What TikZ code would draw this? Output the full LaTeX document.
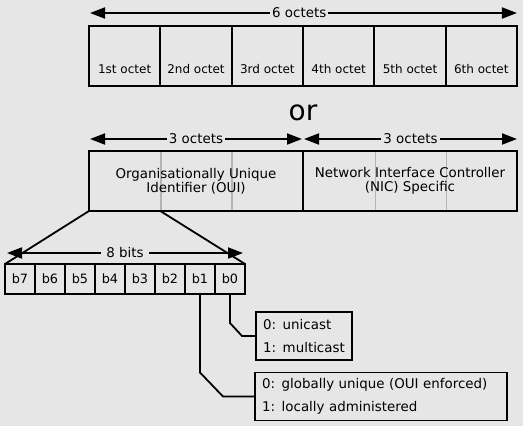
\documentclass[tikz,border=0pt]{standalone}
\usepackage{fontspec}
\setmainfont{DejaVu Sans}
\usetikzlibrary{arrows.meta,calc}
\definecolor{bg}{HTML}{E6E6E6}
\definecolor{divider}{HTML}{B4B4B4}

\begin{document}
\begin{tikzpicture}[x=1pt, y=-1pt, line width=1.8pt,
  font=\fontsize{13.4}{13.8}\selectfont,
  >={Triangle[length=15pt, width=11pt]},
  octet/.style={draw, outer sep=0pt, inner sep=0pt, minimum width=71.33pt, minimum height=60pt},
  half/.style={draw, outer sep=0pt, inner sep=0pt, minimum width=214pt, minimum height=60pt, align=center},
  bit/.style={draw, outer sep=0pt, inner sep=0pt, minimum width=30pt, minimum height=30pt, font=\fontsize{12.8}{13}\selectfont},
  octlabel/.style={anchor=south, yshift=8pt, font=\fontsize{12}{12}\selectfont},
  span/.style={<->},
  gap/.style={fill=bg, inner sep=2pt},
  divline/.style={divider, line width=1.5pt},
  note/.style={draw, outer sep=0pt, anchor=west, align=left, inner xsep=7pt, minimum height=48pt, font=\fontsize{13.4}{23}\selectfont}]

\useasboundingbox (0,0) rectangle (523,426);
\fill[bg] (0,0) rectangle (523,426);

\node[octet, label={[octlabel]south:1st octet}] (o1) at (124.67,56) {};
\node[octet, label={[octlabel]south:2nd octet}] (o2) at (196,56) {};
\node[octet, label={[octlabel]south:3rd octet}] (o3) at (267.33,56) {};
\node[octet, label={[octlabel]south:4th octet}] (o4) at (338.67,56) {};
\node[octet, label={[octlabel]south:5th octet}] (o5) at (410,56) {};
\node[octet, label={[octlabel]south:6th octet}] (o6) at (481.33,56) {};

\draw[span] ([xshift=1pt, yshift=13pt]o1.north west) -- ([yshift=13pt]o6.north east)
  node[gap, pos=0.49] {6 octets};

\node[font=\fontsize{28}{28}\selectfont] (or) at (303,113) {or};

\draw[divline] (161,151) -- (161,211);
\draw[divline] (232,151) -- (232,211);
\draw[divline] (375.5,151) -- (375.5,211);
\draw[divline] (446.5,151) -- (446.5,211);

\node[half] (oui) at (196,181) {Organisationally Unique\\Identifier (OUI)};
\node[half] (nic) at (410,181) {Network Interface Controller\\(NIC) Specific};

\draw[span] ([xshift=1pt, yshift=12pt]oui.north west) -- ([xshift=-1pt, yshift=12pt]oui.north east)
  node[gap, midway] {3 octets};
\draw[span] ([xshift=1pt, yshift=12pt]nic.north west) -- ([yshift=12pt]nic.north east)
  node[gap, midway] {3 octets};

\node[bit] (b7) at (20,279) {b7};
\node[bit] (b6) at (50,279) {b6};
\node[bit] (b5) at (80,279) {b5};
\node[bit] (b4) at (110,279) {b4};
\node[bit] (b3) at (140,279) {b3};
\node[bit] (b2) at (170,279) {b2};
\node[bit] (b1) at (200,279) {b1};
\node[bit] (b0) at (230,279) {b0};

\draw[span] ([xshift=2pt, yshift=11pt]b7.north west) -- ([xshift=-2pt, yshift=11pt]b0.north east)
  node[gap, inner xsep=5pt, midway] {8 bits};

\draw (oui.south west) -- (b7.north west);
\draw ($(oui.south west)!1/3!(oui.south east)$) -- (b0.north east);

\node[note, text width=82pt] (cast) at (256,336) {0: unicast\\1: multicast};
\node[note, text width=238pt] (admin) at (255,396.5) {0: globally unique (OUI enforced)\\1: locally administered};

\draw (b0.south) -- ([yshift=13pt]b0.south |- cast.west) -- ([xshift=-14pt]cast.west) -- (cast.west);
\draw (b1.south) -- ([yshift=24pt]b1.south |- admin.west) -- ([xshift=-32pt]admin.west) -- (admin.west);
\end{tikzpicture}
\end{document}
